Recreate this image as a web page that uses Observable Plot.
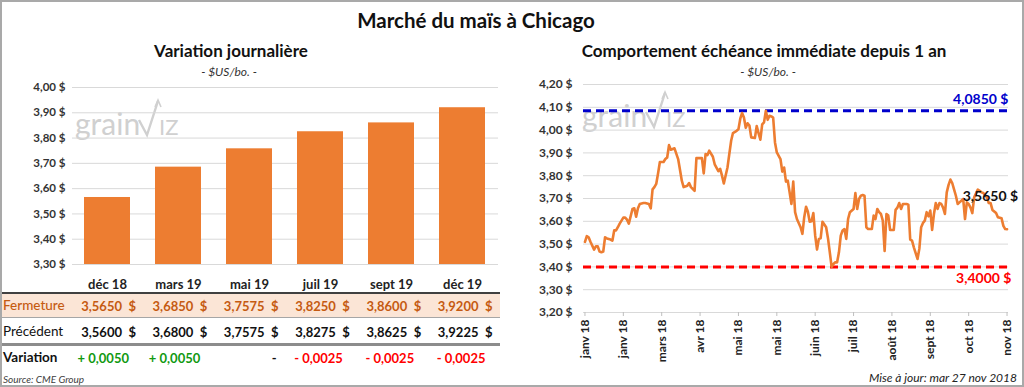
<!DOCTYPE html>
<html><head><meta charset="utf-8">
<script src="https://cdn.jsdelivr.net/npm/d3@7"></script>
<script src="https://cdn.jsdelivr.net/npm/@observablehq/plot@0.6"></script>
<style>
body{margin:0;background:#fff;font-family:Lato,"Open Sans",sans-serif;}
#frame{position:relative;width:1024px;height:387px;overflow:hidden;background:#fff;}
#border{position:absolute;left:0;top:0;width:1024px;height:387px;box-sizing:border-box;border:2px solid #a9a9a9;pointer-events:none;z-index:10;}
.t{position:absolute;white-space:nowrap;line-height:1;}
.plotbox{position:absolute;top:78px;z-index:2;}
.wm{position:absolute;z-index:1;}
</style></head>
<body>
<div id="frame"><div id="border"></div></div>
<script>
// ---------- data ----------
const contracts = ["déc 18","mars 19","mai 19","juil 19","sept 19","déc 19"];
const closing   = [3.5650, 3.6850, 3.7575, 3.8250, 3.8600, 3.9200];
const previous  = [3.5600, 3.6800, 3.7575, 3.8275, 3.8625, 3.9225];
const change    = [0.0050, 0.0050, 0, -0.0025, -0.0025, -0.0025];
const barTicks  = [3.30, 3.40, 3.50, 3.60, 3.70, 3.80, 3.90, 4.00];

// front-month daily closes (trading day number since early Jan 2018)
const tradingDay = [0,1,2,3,5,6,7,8,9,10,11,12,14,15,16,17,18,19,21,22,23,24,26,27,28,29,30,32,33,35,36,37,38,39,40,41,43,44,45,46,47,48,49,51,52,53,54,56,57,58,60,61,62,64,65,66,67,68,70,71,73,74,75,76,
78,79,80,81,83,84,85,86,87,88,89,90,91,93,94,95,96,97,98,99,100,101,102,103,104,105,107,108,109,110,111,112,113,114,115,116,118,119,120,121,122,123,124,125,126,127,128,129,130,132,133,134,135,136,137,138,139,140,141,142,143,144,145,147,148,149,150,151,152,
153,154,155,157,158,159,160,161,162,163,164,165,166,167,168,169,170,171,172,173,174,176,177,178,179,180,182,183,184,185,186,187,188,189,190,191,192,193,194,195,196,197,198,199,200,201,202,203,204,205,206,207,208,209,210,211,212,213,215,216,217,218,220,221,222,223,225,226,228,229,230,231];
const frontMonth = [3.51,3.535,3.53,3.51,3.476,3.49,3.49,3.467,3.464,3.467,3.53,3.525,3.52,3.515,3.56,3.56,3.574,3.59,3.616,3.616,3.607,3.59,3.654,3.657,3.62,3.657,3.676,3.68,3.68,3.676,3.657,3.74,3.75,3.764,3.81,3.86,3.86,3.873,3.88,3.934,3.914,3.917,3.92,3.873,3.826,3.778,3.75,3.756,3.768,3.75,3.734,3.877,3.877,3.877,3.81,3.895,3.89,3.91,3.883,3.85,3.82,3.83,3.80,3.766,
3.836,3.895,3.953,3.987,3.997,4.004,4.05,4.075,4.055,4.01,4.03,4.02,3.968,3.965,4.018,3.987,3.958,4.025,4.034,4.085,4.045,4.063,4.06,4.055,3.946,3.902,3.873,3.818,3.836,3.774,3.778,3.727,3.676,3.774,3.64,3.61,3.574,3.545,3.618,3.664,3.642,3.598,3.60,3.636,3.537,3.476,3.523,3.526,3.598,3.574,3.526,3.464,3.40,3.413,3.42,3.42,3.464,3.537,3.56,3.566,3.523,3.61,3.64,3.654,3.724,3.654,3.698,3.712,3.715,
3.712,3.574,3.566,3.566,3.625,3.61,3.654,3.64,3.632,3.603,3.47,3.632,3.625,3.562,3.562,3.562,3.65,3.66,3.68,3.654,3.676,3.676,3.673,3.52,3.515,3.486,3.435,3.479,3.574,3.593,3.603,3.64,3.622,3.647,3.562,3.632,3.68,3.654,3.68,3.676,3.66,3.632,3.727,3.76,3.783,3.768,3.74,3.712,3.676,3.683,3.69,3.698,3.61,3.683,3.676,3.66,3.636,3.705,3.739,3.734,3.727,3.724,3.705,3.68,3.68,3.65,3.636,3.618,3.613,3.58,3.566,3.565];
const priceTicks = [3.20,3.30,3.40,3.50,3.60,3.70,3.80,3.90,4.00,4.10,4.20];
const tickDays   = [0,21,42,63,84,105,126,147,168,189,210,231];
const tickLabels = ["janv 18","janv 18","mars 18","avr 18","mai 18","mai 18","juin 18","juil 18","août 18","sept 18","oct 18","nov 18"];
const high52 = 4.0850, low52 = 3.4000;

// ---------- helpers ----------
const frame = document.getElementById("frame");
const fmt2 = d => d.toFixed(2).replace(".", ",") + " $";
const fmt4 = d => d.toFixed(4).replace(".", ",") + " $";
function txt(s, x, y, css, anchor) {
  const el = document.createElement("div");
  el.className = "t";
  el.textContent = s;
  el.style.cssText += css || "";
  el.style.left = x + "px"; el.style.top = y + "px";
  const tx = anchor === "end" ? "-100%" : anchor === "middle" ? "-50%" : "0";
  el.style.transform = `translate(${tx},-50%)`;
  frame.appendChild(el);
  return el;
}
function box(x, y, w, h, css) {
  const el = document.createElement("div");
  el.style.cssText = `position:absolute;left:${x}px;top:${y}px;width:${w}px;height:${h}px;` + css;
  frame.appendChild(el);
}
function watermark(x0, base) {
  const w = document.createElement("div");
  w.className = "wm";
  w.style.left = x0 + "px"; w.style.top = (base - 40) + "px";
  w.innerHTML = `<svg width="110" height="48" style="overflow:visible">
    <text x="0" y="40" font-family="Lato" font-weight="400" font-size="30" fill="#d0d0d0">grain</text>
    <polyline points="64,25 72,40 83,6" fill="none" stroke="#d0d0d0" stroke-width="2.4"/>
    <polyline points="80,12 83,5 86,12" fill="none" stroke="#d0d0d0" stroke-width="1.6"/>
    <text x="84" y="40" font-family="Lato" font-weight="400" font-size="22" fill="#d0d0d0">IZ</text></svg>`;
  frame.appendChild(w);
}

// ---------- titles ----------
txt("Marché du maïs à Chicago", 476, 20, "font-weight:700;font-size:20.5px;color:#111;", "middle");
txt("Variation journalière", 231, 50, "font-weight:700;font-size:17px;color:#111;", "middle");
txt("- $US/bo. -", 229, 72, "font-style:italic;font-size:12px;color:#333;", "middle");
txt("Comportement échéance immédiate depuis 1 an", 764, 50, "font-weight:700;font-size:17px;color:#111;", "middle");
txt("- $US/bo. -", 768, 72, "font-style:italic;font-size:12px;color:#333;", "middle");

watermark(75, 135);
watermark(582, 127);

// ---------- left: bar chart ----------
const barData = contracts.map((c, i) => ({contract: c, close: closing[i]}));
const left = Plot.plot({
  width: 512, height: 215,
  marginLeft: 72, marginRight: 14, marginTop: 9, marginBottom: 29,
  style: {background: "transparent", fontFamily: "Lato", overflow: "visible"},
  x: {domain: contracts, paddingInner: 0.35, paddingOuter: 0.175, label: null},
  y: {domain: [3.30, 4.00], label: null},
  marks: [
    Plot.gridY(barTicks, {stroke: "#d9d9d9", strokeOpacity: 1}),
    Plot.barY(barData, {x: "contract", y1: 3.30, y2: "close", fill: "#ED7D31"}),
    Plot.axisY(barTicks, {tickSize: 0, tickPadding: 7, tickFormat: fmt2, fontWeight: "bold", fontSize: 11.5, fill: "#333"}),
    Plot.axisX({tickSize: 0, tickPadding: 15, fontWeight: "bold", fontSize: 13, fill: "#222"})
  ]
});
const lb = document.createElement("div"); lb.className = "plotbox"; lb.style.left = "0px";
lb.appendChild(left); frame.appendChild(lb);

// ---------- left: table ----------
const colRight = contracts.map((c, i) => 136 + 71.3 * i);
box(2, 293, 498, 24, "background:#FBE5D6;");
box(2, 292, 498, 1.5, "background:#404040;");
box(2, 317, 498, 1, "background:#a6a6a6;");
box(2, 343, 498, 2.5, "background:#8c8c8c;");
const yClose = 306, yPrev = 332, yVar = 358;
txt("Fermeture", 3, yClose, "font-size:13.5px;font-weight:500;color:#C55A11;");
txt("Précédent", 3, yPrev, "font-size:13.5px;color:#111;");
txt("Variation", 3, yVar, "font-size:13.5px;font-weight:700;color:#111;");
const num4 = d => d.toFixed(4).replace(".", ",");
contracts.forEach((c, i) => {
  const R = colRight[i];
  txt(num4(closing[i]), R - 14, yClose, "font-size:13px;font-weight:700;color:#C55A11;", "end");
  txt("$", R, yClose, "font-size:13px;font-weight:700;color:#C55A11;", "end");
  txt(num4(previous[i]), R - 14, yPrev, "font-size:13px;font-weight:700;color:#111;", "end");
  txt("$", R, yPrev, "font-size:13px;font-weight:700;color:#111;", "end");
  const v = change[i];
  const s = v > 0 ? "+ " + num4(v) : v < 0 ? "- " + num4(-v) : "-";
  const col = v > 0 ? "#119911" : v < 0 ? "#FF0000" : "#111";
  txt(s, v === 0 ? R - 2 : R - 7, yVar, `font-size:13px;font-weight:700;color:${col};`, "end");
});
txt("Source: CME Group", 3, 379, "font-style:italic;font-size:10px;color:#404040;");

// ---------- right: line chart ----------
const series = tradingDay.map((d, i) => ({day: d, price: frontMonth[i]}));
const lastPt = series[series.length - 1];
const right = Plot.plot({
  width: 512, height: 282,
  marginLeft: 71, marginRight: 16, marginTop: 6, marginBottom: 48,
  style: {background: "transparent", fontFamily: "Lato", overflow: "visible"},
  x: {domain: [-0.8, 231.8], label: null},
  y: {domain: [3.20, 4.20], label: null},
  marks: [
    Plot.gridY(priceTicks, {stroke: "#d9d9d9", strokeOpacity: 1}),
    Plot.ruleY([low52], {stroke: "#FF0000", strokeWidth: 3, strokeDasharray: "8,5"}),
    Plot.ruleY([high52], {stroke: "#0000CC", strokeWidth: 3, strokeDasharray: "8,5"}),
    Plot.lineY(series, {x: "day", y: "price", stroke: "#ED7D31", strokeWidth: 2.6, strokeLinejoin: "round"}),
    Plot.axisY(priceTicks, {tickSize: 0, tickPadding: 11, tickFormat: fmt2, fontWeight: "bold", fontSize: 12, fill: "#333"}),
    Plot.axisX(tickDays, {tickSize: 4, stroke: "#bfbfbf", tickPadding: 3, tickRotate: -90,
      tickFormat: d => tickLabels[tickDays.indexOf(d)], fontWeight: "bold", fontSize: 12, fill: "#222"}),
    Plot.text([high52], {y: d => d, frameAnchor: "right", textAnchor: "end", dy: -11, text: fmt4,
      fill: "#0000CC", fontWeight: "bold", fontSize: 14}),
    Plot.text([low52], {y: d => d, frameAnchor: "right", textAnchor: "end", dx: 3, dy: 12, text: fmt4,
      fill: "#FF0000", fontWeight: "bold", fontSize: 14}),
    Plot.text([lastPt], {x: "day", y: "price", text: d => fmt4(d.price), textAnchor: "end", dx: 11, dy: -33,
      fill: "#111", fontWeight: "bold", fontSize: 14})
  ]
});
const rb = document.createElement("div"); rb.className = "plotbox"; rb.style.left = "512px";
rb.appendChild(right); frame.appendChild(rb);

txt("Mise à jour: mar 27 nov 2018", 1017, 378, "font-style:italic;font-size:12px;color:#222;", "end");
</script>
</body></html>
